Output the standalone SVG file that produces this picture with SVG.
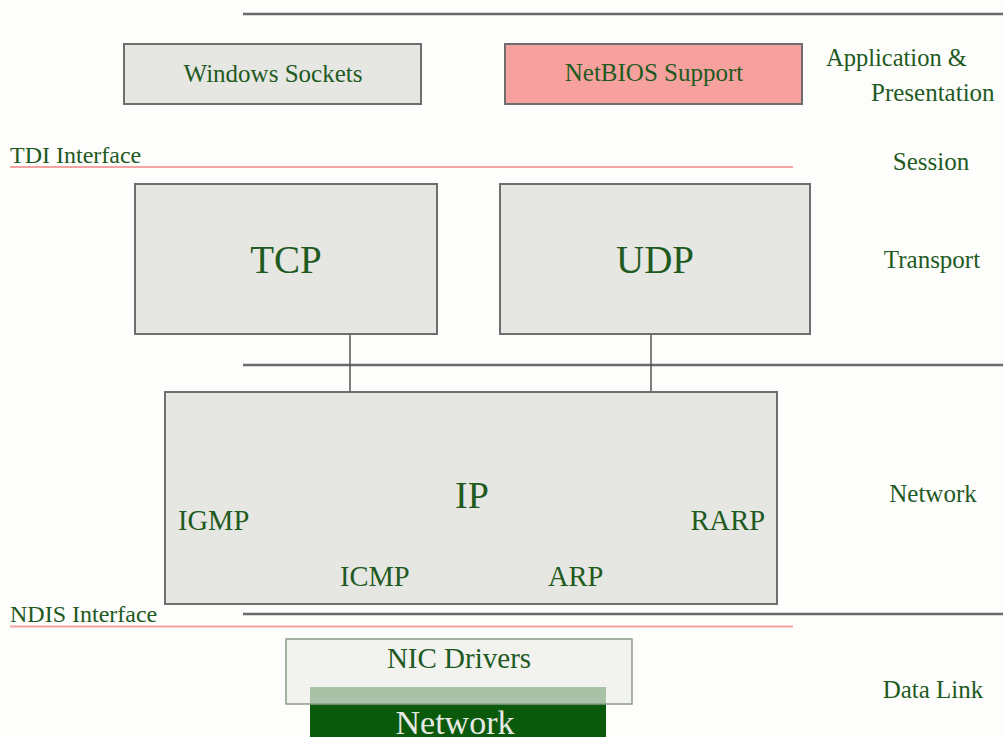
<svg xmlns="http://www.w3.org/2000/svg" width="1003" height="737" viewBox="0 0 1003 737">
<style>
text{font-family:"Liberation Serif","Times New Roman",serif;fill:#1f5a1f}
.box{fill:#e6e6e3;stroke:#6e6e6e;stroke-width:2}
.sep{stroke:#6b6b6b;stroke-width:2.5}
.ifc{stroke:#f4a2a2;stroke-width:2}
.conn{stroke:#555;stroke-width:1.5}
.lbl{font-size:25px}
.big{font-size:39px}
.mid{font-size:28.5px}
</style>
<rect width="1003" height="737" fill="#fdfdfb"/>
<g id="separators">
<line class="sep" x1="243" y1="14" x2="1003" y2="14"/>
<line class="sep" x1="243" y1="365" x2="1003" y2="365"/>
<line class="sep" x1="243" y1="614" x2="1003" y2="614"/>
<line class="ifc" x1="10" y1="167" x2="793" y2="167"/>
<line class="ifc" x1="10" y1="626.5" x2="793" y2="626.5"/>
</g>
<g id="layer-labels" class="lbl">
<text x="826" y="66" font-size="24.5">Application &amp;</text>
<text x="871" y="101">Presentation</text>
<text x="931" y="170" text-anchor="middle">Session</text>
<text x="932" y="268" text-anchor="middle">Transport</text>
<text x="933" y="502" text-anchor="middle">Network</text>
<text x="933" y="698" text-anchor="middle">Data Link</text>
<text x="10" y="163" font-size="24">TDI Interface</text>
<text x="10" y="622" font-size="24">NDIS Interface</text>
</g>
<g id="connectors">
<line class="conn" x1="350" y1="334" x2="350" y2="392"/>
<line class="conn" x1="651" y1="334" x2="651" y2="392"/>
</g>
<g id="windows-sockets">
<rect class="box" x="124" y="44" width="297" height="60"/>
<text class="lbl" x="273" y="82" text-anchor="middle">Windows Sockets</text>
</g>
<g id="netbios-support">
<rect class="box" x="505" y="44" width="297" height="60" style="fill:#f7a19e"/>
<text class="lbl" x="654" y="81" text-anchor="middle">NetBIOS Support</text>
</g>
<g id="tcp">
<rect class="box" x="135" y="184" width="302" height="150"/>
<text class="big" x="286" y="273" text-anchor="middle">TCP</text>
</g>
<g id="udp">
<rect class="box" x="500" y="184" width="310" height="150"/>
<text class="big" x="655" y="273" text-anchor="middle">UDP</text>
</g>
<g id="ip">
<rect class="box" x="165" y="392" width="612" height="212"/>
<text x="472" y="508" font-size="38" text-anchor="middle">IP</text>
<text class="mid" x="178" y="530">IGMP</text>
<text class="mid" x="765" y="530" text-anchor="end">RARP</text>
<text class="mid" x="340" y="586">ICMP</text>
<text class="mid" x="548" y="586">ARP</text>
</g>
<g id="network">
<rect x="310" y="687" width="296" height="60" fill="#0b5a0b"/>
<text x="455" y="734" font-size="34" text-anchor="middle" style="fill:#e6e9e4">Network</text>
</g>
<g id="nic-drivers">
<rect x="286" y="639" width="346" height="65" fill="#ececea" fill-opacity="0.7" stroke="#8a9a88" stroke-width="1.5"/>
<text x="459" y="668" font-size="29" text-anchor="middle">NIC Drivers</text>
</g>
</svg>
